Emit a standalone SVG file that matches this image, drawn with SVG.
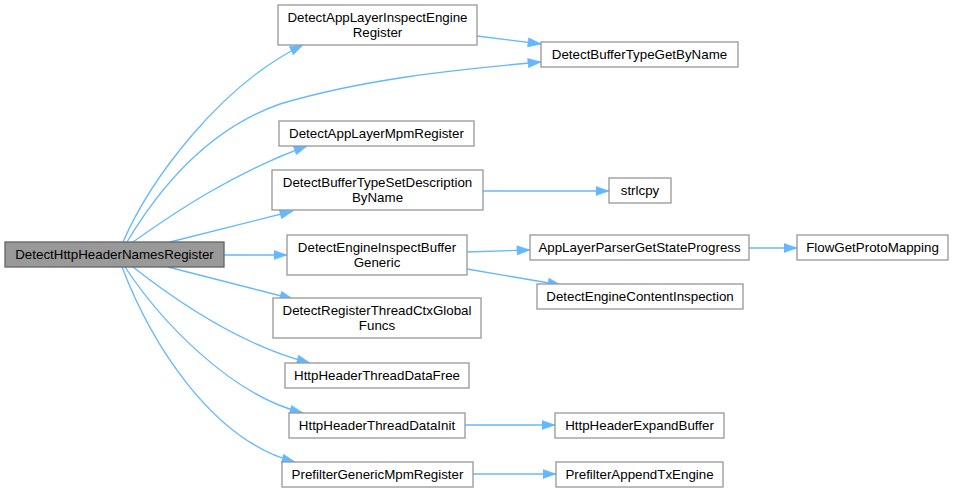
<svg xmlns="http://www.w3.org/2000/svg" width="953" height="493" viewBox="0 0 953 493">
<defs>
<style>
.n rect{fill:#fff;stroke:#999;stroke-width:1.33}
.root rect{fill:#999;stroke:#666;stroke-width:1.33}
text{font-family:"Liberation Sans",Arial,sans-serif;font-size:13.33px;fill:#000;text-anchor:middle}
.e path{fill:none;stroke:#63b8ff;stroke-width:1.33;marker-end:url(#ah)}
</style>
<marker id="ah" markerUnits="userSpaceOnUse" markerWidth="14" markerHeight="10" refX="13.5" refY="5" orient="auto" viewBox="0 0 14 10">
<path d="M0.5,0.4 L13.5,5 L0.5,9.6 z" fill="#63b8ff" stroke="#63b8ff" stroke-width="0.6"/>
</marker>
</defs>
<rect width="953" height="493" fill="#fff"/>
<g id="edges" class="e">
<path d="M123,242 C150,180 220,85 303,45"/>
<path d="M127,242 C170,170 220,125 280,104 C360,80 450,70 541,62"/>
<path d="M477,36 L541,44"/>
<path d="M133,242 C175,212 235,172 307,146"/>
<path d="M170,242 L293,211"/>
<path d="M224,255 L287,255"/>
<path d="M168,267 L293,299"/>
<path d="M133,267 C175,300 240,345 310,363"/>
<path d="M125,267 C160,320 230,395 303,413"/>
<path d="M122,267 C150,340 210,440 295,462"/>
<path d="M483,191 L609,191"/>
<path d="M467,252 L530,250"/>
<path d="M467,269 L561,285"/>
<path d="M749,248 L797,248"/>
<path d="M465,425 L555,425"/>
<path d="M473,474 L556,474"/>
</g>
<g id="root" class="root"><rect x="5" y="242" width="219" height="25"/><text x="114.5" y="258.5">DetectHttpHeaderNamesRegister</text></g>
<g id="n1" class="n"><rect x="278" y="5" width="199" height="40"/><text x="377.5" y="21.5">DetectAppLayerInspectEngine</text><text x="377.5" y="36.5">Register</text></g>
<g id="n2" class="n"><rect x="541" y="42" width="197" height="25"/><text x="639.5" y="58.5">DetectBufferTypeGetByName</text></g>
<g id="n3" class="n"><rect x="279" y="121" width="195" height="25"/><text x="376.5" y="137.5">DetectAppLayerMpmRegister</text></g>
<g id="n4" class="n"><rect x="272" y="170" width="211" height="40"/><text x="377.5" y="186.5">DetectBufferTypeSetDescription</text><text x="377.5" y="201.5">ByName</text></g>
<g id="n5" class="n"><rect x="609" y="178" width="62" height="25"/><text x="640" y="194.5">strlcpy</text></g>
<g id="n6" class="n"><rect x="287" y="235" width="180" height="40"/><text x="377" y="251.5">DetectEngineInspectBuffer</text><text x="377" y="266.5">Generic</text></g>
<g id="n7" class="n"><rect x="530" y="235" width="219" height="25"/><text x="639.5" y="251.5">AppLayerParserGetStateProgress</text></g>
<g id="n8" class="n"><rect x="797" y="235" width="151" height="25"/><text x="872.5" y="251.5">FlowGetProtoMapping</text></g>
<g id="n9" class="n"><rect x="537" y="284" width="206" height="25"/><text x="640" y="300.5">DetectEngineContentInspection</text></g>
<g id="n10" class="n"><rect x="273" y="298" width="208" height="40"/><text x="377" y="314.5">DetectRegisterThreadCtxGlobal</text><text x="377" y="329.5">Funcs</text></g>
<g id="n11" class="n"><rect x="285" y="363" width="184" height="25"/><text x="377" y="379.5">HttpHeaderThreadDataFree</text></g>
<g id="n12" class="n"><rect x="289" y="413" width="176" height="25"/><text x="377" y="429.5">HttpHeaderThreadDataInit</text></g>
<g id="n13" class="n"><rect x="555" y="413" width="169" height="25"/><text x="639.5" y="429.5">HttpHeaderExpandBuffer</text></g>
<g id="n14" class="n"><rect x="282" y="462" width="191" height="25"/><text x="377.5" y="478.5">PrefilterGenericMpmRegister</text></g>
<g id="n15" class="n"><rect x="556" y="462" width="167" height="25"/><text x="639.5" y="478.5">PrefilterAppendTxEngine</text></g>
</svg>
